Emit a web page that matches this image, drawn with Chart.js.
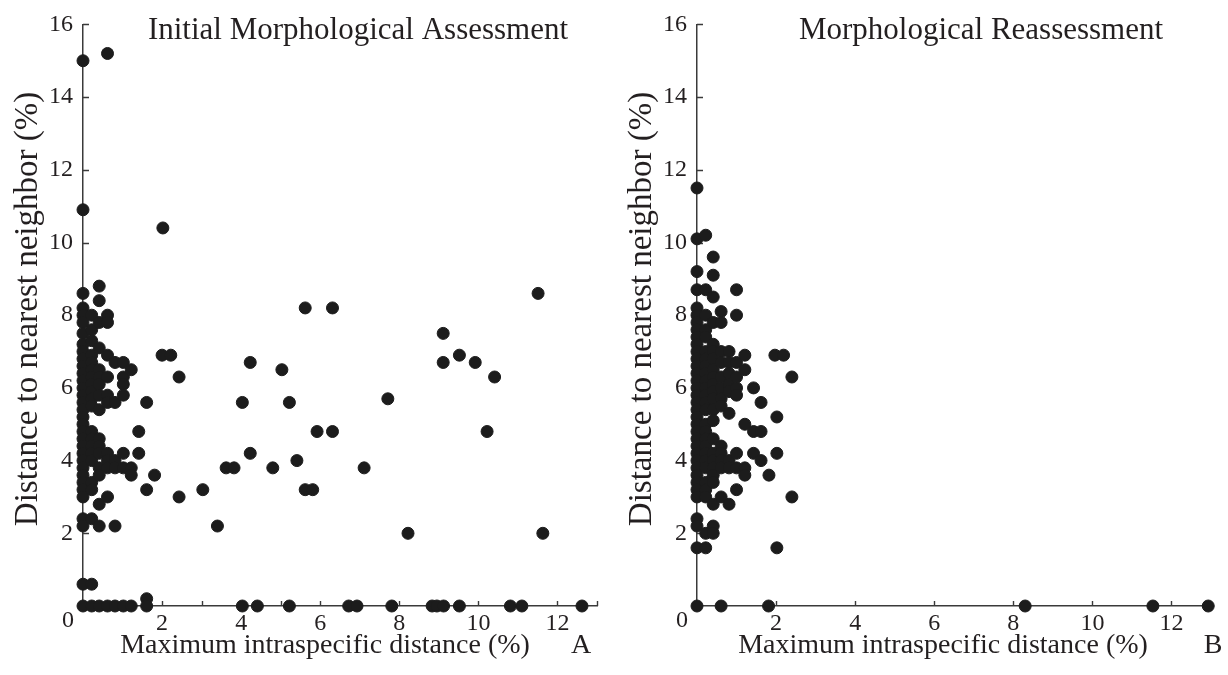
<!DOCTYPE html>
<html lang="en">
<head>
<meta charset="UTF-8">
<title>Morphological assessment</title>
<script src="https://cdn.jsdelivr.net/npm/chart.js"></script>
<style>
  body { margin: 0; background: #fff; }
  .panel { position: absolute; top: 0; }
</style>
</head>
<body>
<canvas id="initial" class="panel" width="614" height="675" style="left:0"></canvas>
<canvas id="reassess" class="panel" width="614" height="675" style="left:614px"></canvas>
<script>
// A: initial morphological assessment (x = max intraspecific, y = nearest neighbor)
const initialX = [
  0,0,0,0,0,0,0,0,0,0, 0,0,0,0,0,0,0,0,0,0, 0,0,0,0,0,0,0,0,0,0, 0,0,0,
  0.22,0.22,0.22,0.22,0.22,0.22,0.22,0.22,0.22,0.22, 0.22,0.22,0.22,0.22,0.22,0.22,0.22,0.22,0.22,0.22, 0.22,
  0.41,0.41,0.41,0.41,0.41,0.41,0.41,0.41,0.41,0.41, 0.41,0.41,0.41,0.41,0.41,0.41,0.41,
  0.62,0.62,0.62,0.62,0.62,0.62,0.62,0.62,0.62,0.62, 0.62,0.62,
  0.81,0.81,0.81,0.81,0.81,0.81,
  1.02,1.02,1.02,1.02,1.02,1.02,1.02,
  1.22,1.22,1.22,1.22,
  1.41,1.41,
  1.61,1.61,1.61,1.61,
  1.81, 2.02, 2.0, 2.22, 2.43, 2.43, 3.03, 3.4, 3.62, 3.82,
  4.03, 4.03, 4.23, 4.23, 4.41, 4.8, 5.03, 5.22, 5.22, 5.41,
  5.62, 5.62, 5.81, 5.92, 6.31, 6.31, 6.72, 6.93, 7.11, 7.71,
  7.81, 8.22, 8.83, 8.95, 9.11, 9.11, 9.12, 9.52, 9.52, 9.92,
  10.22, 10.41, 10.81, 11.1, 11.51, 11.63, 12.62
];
const initialY = [
  15.0,10.9,8.6,8.2,8.0,7.8,7.5,7.2,7.0,6.8, 6.6,6.4,6.2,6.0,5.8,5.6,5.4,5.2,5.0,4.8, 4.6,4.4,4.2,4.0,3.8,3.6,3.4,3.2,3.0,2.4, 2.2,0.6,0,
  8.0,7.6,7.3,6.9,6.7,6.5,6.3,6.1,5.9,5.7, 5.5,4.8,4.6,4.4,4.2,4.0,3.4,3.2,2.4,0.6, 0,
  8.8,8.4,7.8,7.1,6.5,6.3,6.1,5.8,5.4,4.6, 4.4,4.2,3.8,3.6,2.8,2.2,0,
  15.2,8.0,7.8,6.9,6.3,5.8,5.6,4.2,4.0,3.8, 3.0,0,
  6.7,5.6,4.0,3.8,2.2,0,
  6.7,6.3,6.1,5.8,4.2,3.8,0,
  6.5,3.8,3.6,0,
  4.8,4.2,
  5.6,3.2,0.2,0,
  3.6, 10.4, 6.9, 6.9, 6.3, 3.0, 3.2, 2.2, 3.8, 3.8,
  5.6, 0, 6.7, 4.2, 0, 3.8, 6.5, 5.6, 0, 4.0,
  8.2, 3.2, 3.2, 4.8, 8.2, 4.8, 0, 0, 3.8, 5.7,
  0, 2.0, 0, 0, 7.5, 6.7, 0, 6.9, 0, 6.7,
  4.8, 6.3, 0, 0, 8.6, 2.0, 0
];

// B: morphological reassessment
const reassessX = [
  0,0,0,0,0,0,0,0,0,0, 0,0,0,0,0,0,0,0,0,0, 0,0,0,0,0,0,0,0,0,0, 0,0,0,0,0,
  0.22,0.22,0.22,0.22,0.22,0.22,0.22,0.22,0.22,0.22, 0.22,0.22,0.22,0.22,0.22,0.22,0.22,0.22,0.22,0.22, 0.22,0.22,0.22,0.22,0.22,0.22,
  0.41,0.41,0.41,0.41,0.41,0.41,0.41,0.41,0.41,0.41, 0.41,0.41,0.41,0.41,0.41,0.41,0.41,0.41,0.41,0.41, 0.41,0.41,0.41,
  0.61,0.61,0.61,0.61,0.61,0.61,0.61,0.61,0.61,0.61, 0.61,0.61,0.61,0.61,
  0.81,0.81,0.81,0.81,0.81,0.81,0.81,0.81,0.81,
  1.0,1.0,1.0,1.0,1.0,1.0,1.0,1.0,1.0,
  1.21,1.21,1.21,1.21,1.21,
  1.43,1.43,1.43,
  1.62,1.62,1.62,
  1.82, 1.81, 1.97, 2.02, 2.02, 2.02, 2.19, 2.4, 2.4, 8.3, 11.53, 12.93
];
const reassessY = [
  11.5,10.1,9.2,8.7,8.2,8.0,7.8,7.6,7.4,7.2, 7.0,6.8,6.6,6.4,6.2,6.0,5.8,5.6,5.4,5.2, 5.0,4.8,4.6,4.4,4.2,4.0,3.8,3.6,3.4,3.2, 3.0,2.4,2.2,1.6,0,
  10.2,8.7,8.0,7.6,7.4,7.0,6.8,6.6,6.4,6.2, 6.0,5.8,5.6,5.4,5.0,4.8,4.6,4.4,4.2,4.0, 3.8,3.4,3.2,3.0,2.0,1.6,
  9.6,9.1,8.5,7.8,7.2,7.0,6.8,6.5,6.3,6.1, 5.9,5.7,5.4,5.1,4.6,4.2,4.0,3.8,3.6,3.4, 2.8,2.2,2.0,
  8.1,7.8,7.0,6.7,6.3,6.0,5.7,5.5,4.4,4.2, 4.0,3.8,3.0,0,
  7.0,6.7,6.4,6.1,5.9,5.3,4.0,3.8,2.8,
  8.7,8.0,6.7,6.3,6.0,5.8,4.2,3.8,3.2,
  6.9,6.5,5.0,3.8,3.6,
  6.0,4.8,4.2,
  5.6,4.8,4.0,
  3.6, 0, 6.9, 5.2, 4.2, 1.6, 6.9, 6.3, 3.0, 0, 0, 0
];

// tick values (labels only on the even ones)
const initialXTicks = [0,1,2,3,4,5,6,7,8,9,10,11,12,13];
const reassessXTicks = [0,2,4,6,8,10,12];
const yTicks = [0,2,4,6,8,10,12,14,16];

const SERIF = "'Liberation Serif', 'Times New Roman', serif";
const INK = '#231f20';
const AXIS = '#3a3a3a';
const DOT = '#1c1c1c';

// inward tick marks + panel texts
const panelDecor = {
  id: 'panelDecor',
  beforeDatasetsDraw(chart, args, o) {
    const { ctx, chartArea } = chart;
    const xs = chart.scales.x, ys = chart.scales.y;
    ctx.save();
    ctx.strokeStyle = AXIS;
    ctx.lineWidth = 1.4;
    ctx.beginPath();
    xs.ticks.filter(t => t.value > 0).forEach(t => {
      const px = Math.round(xs.getPixelForValue(t.value)) + 0.5;
      ctx.moveTo(px, chartArea.bottom);
      ctx.lineTo(px, chartArea.bottom - 5);
    });
    ys.ticks.filter(t => t.value > 0).forEach(t => {
      const py = Math.round(ys.getPixelForValue(t.value)) + 0.5;
      ctx.moveTo(chartArea.left, py);
      ctx.lineTo(chartArea.left + 6, py);
    });
    ctx.stroke();
    ctx.restore();
  },
  afterDraw(chart, args, o) {
    const { ctx } = chart;
    const x0 = chart.scales.x.getPixelForValue(0);
    ctx.save();
    ctx.fillStyle = INK;
    ctx.textAlign = 'center';
    ctx.textBaseline = 'middle';
    ctx.font = `31px ${SERIF}`;
    ctx.fillText(o.title, o.titleX, 31);
    ctx.font = `28px ${SERIF}`;
    ctx.fillText(o.xTitle, o.xTitleX, 646);
    ctx.fillText(o.letter, o.letterX, 646);
    ctx.font = `24px ${SERIF}`;
    ctx.fillText('0', x0 - 15, 621);
    ctx.translate(28, 309);
    ctx.rotate(-Math.PI / 2);
    ctx.font = `33px ${SERIF}`;
    ctx.fillText(o.yTitle, 0, 0);
    ctx.restore();
  }
};

function makePanel(id, xs, ys, xTicks, decor) {
  const points = xs.map((v, i) => ({ x: v, y: ys[i] }));
  new Chart(document.getElementById(id), {
    type: 'scatter',
    data: {
      datasets: [{
        data: points,
        backgroundColor: DOT,
        borderColor: DOT,
        borderWidth: 1,
        pointRadius: 6,
        pointHoverRadius: 6,
        clip: false
      }]
    },
    options: {
      responsive: false,
      animation: false,
      layout: { padding: { left: 0, right: 17, top: 17, bottom: 0 } },
      plugins: {
        legend: { display: false },
        tooltip: { enabled: false },
        panelDecor: decor
      },
      scales: {
        x: {
          type: 'linear', min: 0, max: 13,
          afterBuildTicks: s => { s.ticks = xTicks.map(v => ({ value: v })); },
          afterFit: s => { s.height = 69; },
          grid: { display: false, drawTicks: false },
          border: { display: true, color: AXIS, width: 1.5 },
          ticks: {
            padding: 3, color: INK, autoSkip: false, maxRotation: 0,
            font: { family: SERIF, size: 24 },
            callback: v => (v > 0 && v % 2 === 0) ? String(v) : ''
          }
        },
        y: {
          type: 'linear', min: 0, max: 16,
          afterBuildTicks: s => { s.ticks = yTicks.map(v => ({ value: v })); },
          afterFit: s => { s.width = 83; },
          grid: { display: false, drawTicks: false },
          border: { display: true, color: AXIS, width: 1.5 },
          ticks: {
            padding: 10, color: INK,
            font: { family: SERIF, size: 24 },
            callback: v => v > 0 ? String(v) : ''
          }
        }
      }
    },
    plugins: [panelDecor]
  });
}

makePanel('initial', initialX, initialY, initialXTicks, {
  title: 'Initial Morphological Assessment', titleX: 358,
  xTitle: 'Maximum intraspecific distance (%)', xTitleX: 325,
  letter: 'A', letterX: 581,
  yTitle: 'Distance to nearest neighbor (%)'
});
makePanel('reassess', reassessX, reassessY, reassessXTicks, {
  title: 'Morphological Reassessment', titleX: 367,
  xTitle: 'Maximum intraspecific distance (%)', xTitleX: 329,
  letter: 'B', letterX: 599,
  yTitle: 'Distance to nearest neighbor (%)'
});
</script>
</body>
</html>
